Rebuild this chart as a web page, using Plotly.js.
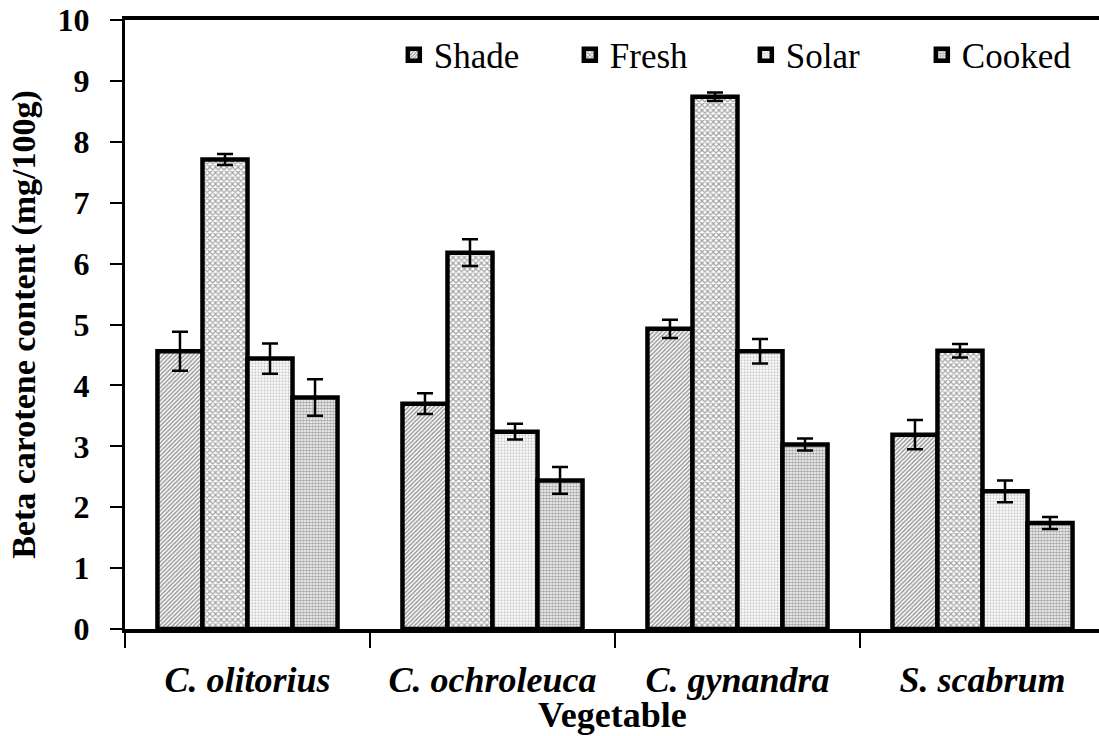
<!DOCTYPE html>
<html>
<head>
<meta charset="utf-8">
<script src="https://cdn.plot.ly/plotly-3.0.1.min.js"></script>
<style>
  html, body { margin: 0; padding: 0; background: #fff; }
  #chart { width: 1099px; height: 736px; }
</style>
</head>
<body>
<div id="chart"></div>
<script>
// Beta carotene content of four leafy vegetables under different treatments
const vegetables = ['C. olitorius', 'C. ochroleuca', 'C. gynandra', 'S. scabrum'];

const shade     = [4.56, 3.70, 4.93, 3.19];
const shadeErr  = [0.32, 0.17, 0.15, 0.24];
const fresh     = [7.71, 6.18, 8.74, 4.57];
const freshErr  = [0.09, 0.22, 0.07, 0.11];
const solar     = [4.44, 3.24, 4.56, 2.26];
const solarErr  = [0.25, 0.13, 0.20, 0.18];
const cooked    = [3.80, 2.44, 3.03, 1.74];
const cookedErr = [0.30, 0.22, 0.10, 0.10];

const xTitle = 'Vegetable';
const yTitle = 'Beta carotene content (mg/100g)';

const serif = 'Liberation Serif';

function series(name, values, errors, pattern) {
  return {
    type: 'bar',
    name: name,
    x: vegetables,
    y: values,
    marker: {
      color: '#ffffff',
      line: { color: '#000000', width: 4.5 },
      pattern: Object.assign({ bgcolor: '#ffffff', fillmode: 'overlay' }, pattern)
    },
    error_y: { type: 'data', array: errors, visible: true, color: '#000000', thickness: 2.5, width: 8 }
  };
}

const data = [
  series('Shade',  shade,  shadeErr,  { shape: '/', size: 3, solidity: 0.5, fgcolor: '#333333' }),
  series('Fresh',  fresh,  freshErr,  { shape: 'x', size: 4, solidity: 0.5, fgcolor: '#444444' }),
  series('Solar',  solar,  solarErr,  { shape: '.', size: 3, solidity: 0.45, fgcolor: '#999999' }),
  series('Cooked', cooked, cookedErr, { shape: '.', size: 3, solidity: 0.65, fgcolor: '#555555' })
];

const layout = {
  width: 1099,
  height: 736,
  margin: { l: 125, r: 0, t: 20, b: 107 },
  paper_bgcolor: '#ffffff',
  plot_bgcolor: '#ffffff',
  font: { family: serif, color: '#000000' },
  barmode: 'group',
  bargap: 0.265,
  bargroupgap: 0,
  showlegend: true,
  legend: {
    orientation: 'h',
    x: 0.276, xanchor: 'left',
    y: 0.9425, yanchor: 'middle',
    entrywidth: 131,
    entrywidthmode: 'pixels',
    font: { family: serif, size: 35, color: '#000000' },
    bgcolor: 'rgba(0,0,0,0)',
    traceorder: 'normal'
  },
  xaxis: {
    type: 'category',
    range: [-0.5, 3.4755],
    automargin: false,
    tickson: 'boundaries',
    ticks: 'outside',
    ticklen: 15,
    tickwidth: 2,
    tickcolor: '#000000',
    ticklabelstandoff: 16,
    tickfont: { family: serif, size: 36, weight: 'bold', style: 'italic', color: '#000000' },
    showline: true,
    linecolor: '#000000',
    linewidth: 4,
    mirror: true,
    showgrid: false,
    zeroline: false
  },
  yaxis: {
    range: [0, 10],
    dtick: 1,
    tick0: 0,
    automargin: false,
    ticks: 'outside',
    ticklen: 12,
    tickwidth: 2,
    tickcolor: '#000000',
    ticklabelstandoff: 14,
    tickfont: { family: serif, size: 32, weight: 'bold', color: '#000000' },
    showline: true,
    linecolor: '#000000',
    linewidth: 3,
    showgrid: false,
    zeroline: false,
    title: { text: yTitle, font: { family: serif, size: 34, weight: 'bold', color: '#000000' }, standoff: 12 }
  },
  annotations: [{
    text: xTitle,
    xref: 'paper', yref: 'paper',
    x: 0.5, y: -0.141,
    xanchor: 'center', yanchor: 'middle',
    showarrow: false,
    font: { family: serif, size: 36, weight: 'bold', color: '#000000' }
  }]
};

Plotly.newPlot('chart', data, layout, { displayModeBar: false, staticPlot: true });
</script>
</body>
</html>
